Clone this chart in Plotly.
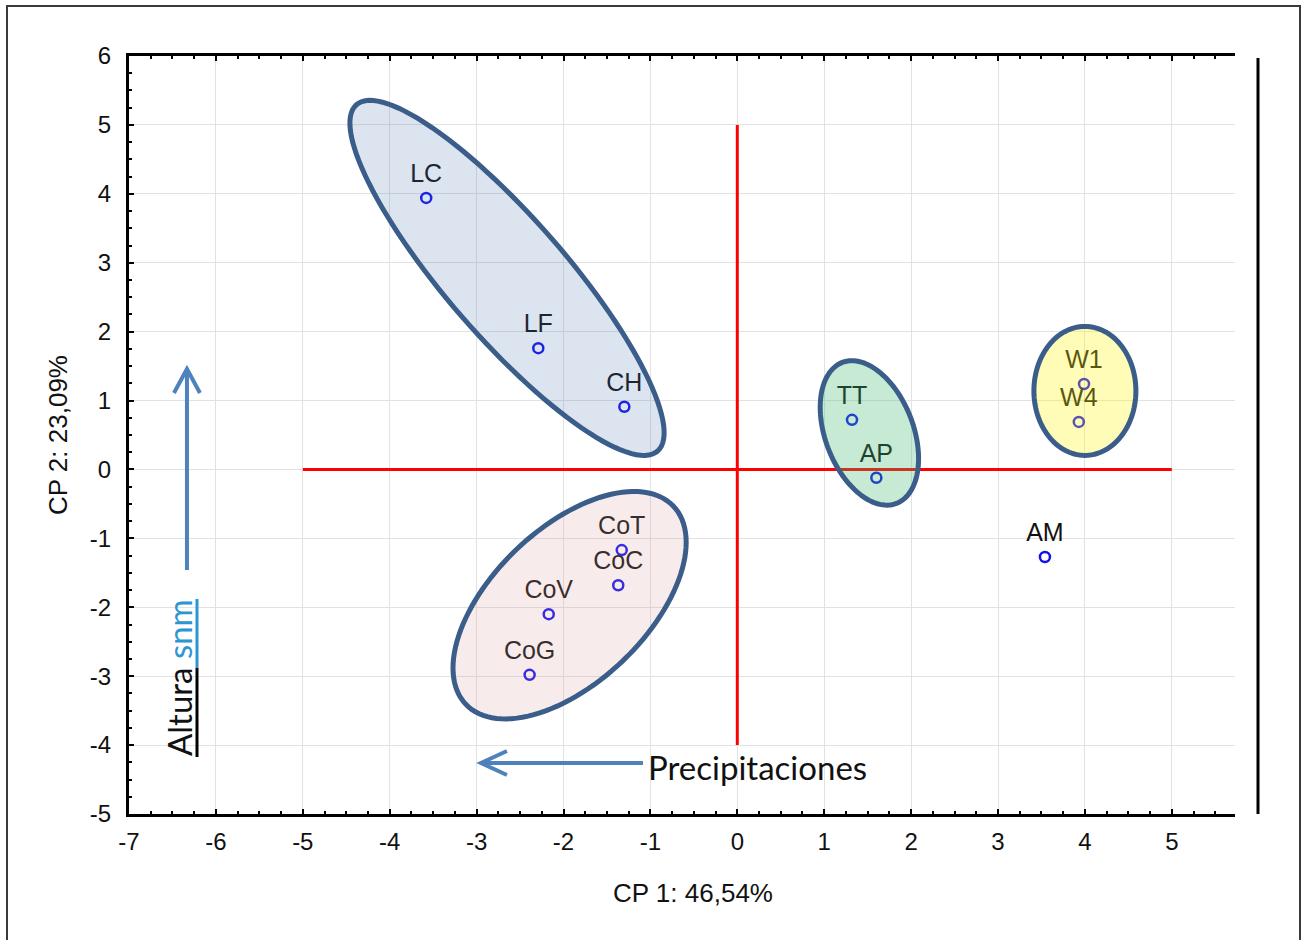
import numpy as np
import plotly.graph_objects as go

# ---- data: PCA scores per site ----
sites = ["LC", "LF", "CH", "TT", "AP", "W1", "W4", "AM", "CoT", "CoC", "CoV", "CoG"]
cp1 = [-3.58, -2.29, -1.30, 1.32, 1.60, 3.99, 3.93, 3.54, -1.33, -1.37, -2.17, -2.39]
cp2 = [3.94, 1.76, 0.91, 0.72, -0.12, 1.24, 0.69, -1.27, -1.17, -1.68, -2.10, -2.98]

x_ticks = [-7, -6, -5, -4, -3, -2, -1, 0, 1, 2, 3, 4, 5]
x_tick_text = ["-7", "-6", "-5", "-4", "-3", "-2", "-1", "0", "1", "2", "3", "4", "5"]
y_ticks = [-5, -4, -3, -2, -1, 0, 1, 2, 3, 4, 5, 6]
y_tick_text = ["-5", "-4", "-3", "-2", "-1", "0", "1", "2", "3", "4", "5", "6"]

# reference axes through the origin
h_axis_x = [-5, 5]
h_axis_y = [0, 0]
v_axis_x = [0, 0]
v_axis_y = [-4, 5]

# ---- layout geometry ----
W, H = 1306, 940
ML, MR, MT, MB = 129, 71, 56, 126
PW, PH = W - ML - MR, H - MT - MB
X_RANGE = [-7, -7 + PW / 86.9]
Y_RANGE = [-5, 6]
SX = PW / (X_RANGE[1] - X_RANGE[0])   # px per x unit
SY = PH / (Y_RANGE[1] - Y_RANGE[0])   # px per y unit


def paper_x(px):
    return (px - ML) / PW


def paper_y(py):
    return (MT + PH - py) / PH


def ellipse_path(cx, cy, a_px, b_px, ang_deg, n=120):
    """Rotated ellipse centred at data (cx, cy); semi-axes in screen pixels,
    angle measured clockwise on screen."""
    t = np.linspace(0, 2 * np.pi, n, endpoint=False)
    th = np.deg2rad(ang_deg)
    px = a_px * np.cos(t) * np.cos(th) - b_px * np.sin(t) * np.sin(th)
    py = a_px * np.cos(t) * np.sin(th) + b_px * np.sin(t) * np.cos(th)
    xs = cx + px / SX
    ys = cy - py / SY
    pts = [f"{x:.4f},{y:.4f}" for x, y in zip(xs, ys)]
    return "M " + " L ".join(pts) + " Z"


LABEL_FONT = "Liberation Sans, Arial, sans-serif"
NOTE_FONT = "Lato, Carlito, Calibri, sans-serif"
POINT_BLUE = "#1010f0"
ARROW_BLUE = "#4F81BD"
OUTLINE = "#3a5d8a"

fig = go.Figure()

# red cross through the origin
fig.add_trace(go.Scatter(x=h_axis_x, y=h_axis_y, mode="lines",
                         line=dict(color="#ff0000", width=3), hoverinfo="skip"))
fig.add_trace(go.Scatter(x=v_axis_x, y=v_axis_y, mode="lines",
                         line=dict(color="#ff0000", width=3), hoverinfo="skip"))

# site scores
fig.add_trace(go.Scatter(
    x=cp1, y=cp2, mode="markers",
    marker=dict(symbol="circle-open", size=10, color=POINT_BLUE,
                line=dict(width=2.5, color=POINT_BLUE)),
    hovertext=sites, hoverinfo="text+x+y"))

# site names above the points
fig.add_trace(go.Scatter(
    x=cp1, y=cp2, mode="markers+text", text=sites,
    textposition="top center",
    textfont=dict(family=LABEL_FONT, size=25, color="#111111"),
    marker=dict(size=14, color="rgba(0,0,0,0)"),
    hoverinfo="skip"))

shapes = []

# translucent group envelopes
groups = [
    # (cx, cy, a_px, b_px, angle, fill)
    (-2.65, 2.78, 229.5, 59.5, 49, "rgba(80,120,180,0.20)"),
    (-1.93, -1.97, 143.5, 77.0, -43.7, "rgba(215,160,155,0.20)"),
    (1.52, 0.53, 75.5, 44.0, 69, "rgba(65,185,112,0.30)"),
    (4.00, 1.14, 64.5, 51.0, 90, "rgba(255,245,18,0.30)"),
]
for cx, cy, a, b, ang, fill in groups:
    shapes.append(dict(type="path", xref="x", yref="y", layer="above",
                       path=ellipse_path(cx, cy, a, b, ang),
                       fillcolor=fill, line=dict(color=OUTLINE, width=5)))

# altitude arrow (upwards)
ux, uy0, uy1 = -6.333, -1.46, 1.457
arm_dx, arm_dy = 13 / SX, 24 / SY
shapes.append(dict(type="path", xref="x", yref="y", layer="above",
                   path=f"M {ux},{uy0} L {ux},{uy1}",
                   line=dict(color=ARROW_BLUE, width=4)))
shapes.append(dict(type="path", xref="x", yref="y", layer="above",
                   path=f"M {ux - arm_dx},{uy1 - arm_dy} L {ux},{uy1} L {ux + arm_dx},{uy1 - arm_dy}",
                   line=dict(color=ARROW_BLUE, width=4)))

# precipitation arrow (leftwards)
ly, lx0, lx1 = -4.26, -1.085, -2.95
arm_dx2, arm_dy2 = 26 / SX, 12 / SY
shapes.append(dict(type="path", xref="x", yref="y", layer="above",
                   path=f"M {lx0},{ly} L {lx1},{ly}",
                   line=dict(color=ARROW_BLUE, width=4)))
shapes.append(dict(type="path", xref="x", yref="y", layer="above",
                   path=f"M {lx1 + arm_dx2},{ly + arm_dy2} L {lx1},{ly} L {lx1 + arm_dx2},{ly - arm_dy2}",
                   line=dict(color=ARROW_BLUE, width=4)))

# underline of the rotated "Altura snm" note
shapes.append(dict(type="line", xref="paper", yref="paper",
                   x0=paper_x(197), x1=paper_x(197), y0=paper_y(757), y1=paper_y(668),
                   line=dict(color="black", width=3)))
shapes.append(dict(type="line", xref="paper", yref="paper",
                   x0=paper_x(197), x1=paper_x(197), y0=paper_y(668), y1=paper_y(599),
                   line=dict(color="#2e95d3", width=3)))

# right-hand rule and outer frame
shapes.append(dict(type="line", xref="paper", yref="paper",
                   x0=paper_x(1258), x1=paper_x(1258), y0=paper_y(814), y1=paper_y(58),
                   line=dict(color="black", width=3)))
shapes.append(dict(type="rect", xref="paper", yref="paper",
                   x0=paper_x(7), x1=paper_x(1300), y0=paper_y(965), y1=paper_y(6),
                   line=dict(color="#3a3a3a", width=2), fillcolor="rgba(0,0,0,0)"))

annotations = [
    dict(text="CP 1: 46,54%", xref="paper", yref="paper",
         x=paper_x(693), y=paper_y(893), xanchor="center", yanchor="middle",
         showarrow=False, font=dict(family=LABEL_FONT, size=26, color="#111111")),
    dict(text="CP 2: 23,09%", xref="paper", yref="paper", textangle=-90,
         x=paper_x(58), y=paper_y(435), xanchor="center", yanchor="middle",
         showarrow=False, font=dict(family=LABEL_FONT, size=26, color="#111111")),
    dict(text="Precipitaciones", xref="paper", yref="paper",
         x=paper_x(646), y=paper_y(767), xanchor="left", yanchor="middle",
         showarrow=False, font=dict(family=NOTE_FONT, size=33, color="#111111")),
    dict(text="Altura <span style='color:#2e95d3'>snm</span>", xref="paper", yref="paper",
         textangle=-90, x=paper_x(179), y=paper_y(678), xanchor="center", yanchor="middle",
         showarrow=False, font=dict(family=NOTE_FONT, size=33, color="#111111")),
]

axis_common = dict(
    showline=True, linecolor="black", linewidth=3,
    ticks="inside", ticklen=5, tickwidth=2, tickcolor="black",
    showgrid=True, gridcolor="#e2e2e2", gridwidth=1.3,
    zeroline=False,
    tickfont=dict(family=LABEL_FONT, size=24, color="#111111"),
)

fig.update_layout(
    width=W, height=H,
    margin=dict(l=ML, r=MR, t=MT, b=MB),
    paper_bgcolor="white", plot_bgcolor="white",
    showlegend=False,
    shapes=shapes, annotations=annotations,
    xaxis=dict(range=X_RANGE, tickvals=x_ticks, ticktext=x_tick_text,
               mirror="ticks", ticklabelstandoff=4,
               minor=dict(dtick=0.25, ticks="inside", ticklen=3, tickwidth=2,
                          tickcolor="black", showgrid=False),
               **axis_common),
    yaxis=dict(range=Y_RANGE, tickvals=y_ticks, ticktext=y_tick_text,
               ticklabelstandoff=10,
               minor=dict(dtick=0.25, ticks="inside", ticklen=3, tickwidth=2,
                          tickcolor="black", showgrid=False),
               **axis_common),
)

fig.write_html("out.html")
